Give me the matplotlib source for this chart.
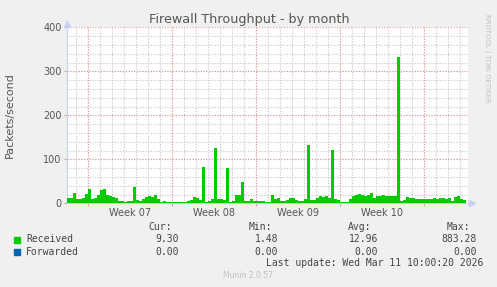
import numpy as np
import matplotlib
matplotlib.use("Agg")
import matplotlib.pyplot as plt
from matplotlib.transforms import blended_transform_factory

# 数据: 每格 6 小时 (0.25 天), 从图左边开始
received = [12, 13, 24, 10, 10, 12, 22, 32, 10, 12, 20, 30, 32, 20, 17, 15, 12, 6, 5, 4,
            5, 6, 38, 8, 6, 9, 14, 16, 14, 18, 10, 4, 5, 3, 2, 2, 2, 2, 2, 3,
            5, 8, 14, 13, 8, 83, 4, 6, 10, 125, 9, 9, 8, 80, 4, 6, 18, 20, 48, 5,
            6, 10, 6, 5, 5, 5, 4, 3, 20, 10, 12, 6, 5, 7, 11, 12, 8, 5, 6, 10,
            132, 7, 8, 12, 16, 14, 16, 13, 121, 10, 8, 4, 2, 3, 10, 16, 20, 21, 19, 16,
            20, 24, 12, 16, 17, 18, 16, 17, 16, 17, 332, 6, 8, 14, 13, 12, 10, 9, 10, 9,
            10, 9, 11, 10, 11, 12, 10, 11, 6, 14, 16, 10, 8]
step_days = 0.25
week_labels = ["Week 07", "Week 08", "Week 09", "Week 10"]
week_starts = [1.75, 8.75, 15.75, 22.75, 29.75]
yticks = [0, 100, 200, 300, 400]

legend_names = ["Received", "Forwarded"]
legend_colors = ["#00cc00", "#0066b3"]
cur = ["9.30", "0.00"]
vmin = ["1.48", "0.00"]
avg = ["12.96", "0.00"]
vmax = ["883.28", "0.00"]

W, H = 497, 287
fig = plt.figure(figsize=(W / 100, H / 100), dpi=100, facecolor="#f0f0f0")
L, R, T, B = 67, 468, 27.3, 203.3
ax = fig.add_axes([L / W, 1 - B / H, (R - L) / W, (B - T) / H])
ax.set_facecolor("white")

edges = np.arange(len(received) + 1) * step_days
ax.fill_between(edges, received + [received[-1]], step="post", color="#00cc00",
                linewidth=0, zorder=3)

xmax = (R - L) / 12.0
ax.set_xlim(0, xmax)
ax.set_ylim(0, 400)

# 网格
for d in np.arange(0.75, xmax, 1.0):
    ax.axvline(d, color="#c4c4c4", ls=(0, (1, 1.5)), lw=0.8, zorder=1)
for v in range(20, 400, 20):
    ax.axhline(v, color="#c4c4c4", ls=(0, (1, 1.5)), lw=0.8, zorder=1)
for d in week_starts:
    ax.axvline(d, color="#e89a9a", ls=(0, (1, 1.5)), lw=0.8, zorder=2)
for v in yticks[1:]:
    ax.axhline(v, color="#e89a9a", ls=(0, (1, 1.5)), lw=0.8, zorder=2)

for s in ["top", "right"]:
    ax.spines[s].set_visible(False)
for s in ["left", "bottom"]:
    ax.spines[s].set_color("#c8d0f0")
    ax.spines[s].set_linewidth(0.8)
ax.plot([0], [1.02], marker="^", color="#c8d0f0", ms=4, transform=ax.transAxes, clip_on=False)
ax.plot([1.01], [0], marker=">", color="#c8d0f0", ms=4, transform=ax.transAxes, clip_on=False)

ax.set_yticks(yticks)
ax.set_yticklabels([str(v) for v in yticks], fontsize=7, color="#555555")
ax.tick_params(axis="y", length=2, color="#b0b0b0", pad=2)
ax.set_xticks(week_starts)
ax.set_xticklabels([])
ax.tick_params(axis="x", length=2, color="#e8a0a0")

trans = blended_transform_factory(ax.transData, fig.transFigure)
for i, lab in enumerate(week_labels):
    mid = (week_starts[i] + week_starts[i + 1]) / 2
    ax.text(mid, 1 - 213 / H, lab, transform=trans, ha="center", va="center",
            fontsize=7, color="#555555")

fig.text(249 / W, 1 - 19 / H, "Firewall Throughput - by month", ha="center", va="center",
         fontsize=9.2, color="#555555")
fig.text(10 / W, 1 - 115 / H, "Packets/second", rotation=90, ha="center", va="center",
         fontsize=8, color="#555555")
fig.text(487 / W, 1 - 58 / H, "RRDTOOL / TOBI OETIKER", rotation=270, ha="center",
         va="center", fontsize=5, color="#c0c0c0")

mono = dict(family="DejaVu Sans Mono", fontsize=7, color="#444444", va="center")
hy = 1 - 227 / H
for x, lab in [(172, "Cur:"), (272, "Min:"), (371, "Avg:"), (470, "Max:")]:
    fig.text(x / W, hy, lab, ha="right", **mono)
for r, yy in enumerate([239.5, 251.7]):
    fy = 1 - yy / H
    fig.patches.append(plt.Rectangle((14 / W, fy - 3 / H), 6 / W, 6 / H, color=legend_colors[r],
                                     transform=fig.transFigure, figure=fig))
    fig.text(26 / W, fy, legend_names[r], ha="left", **mono)
    for x, col in [(179, cur), (278, vmin), (378, avg), (477, vmax)]:
        fig.text(x / W, fy, col[r], ha="right", **mono)
fig.text(483 / W, 1 - 263 / H, "Last update: Wed Mar 11 10:00:20 2026", ha="right", **mono)
fig.text(248 / W, 1 - 276 / H, "Munin 2.0.57", ha="center", va="center", fontsize=5.5,
         color="#c0c0c0")

fig.savefig("out.png", dpi=100, facecolor=fig.get_facecolor())
